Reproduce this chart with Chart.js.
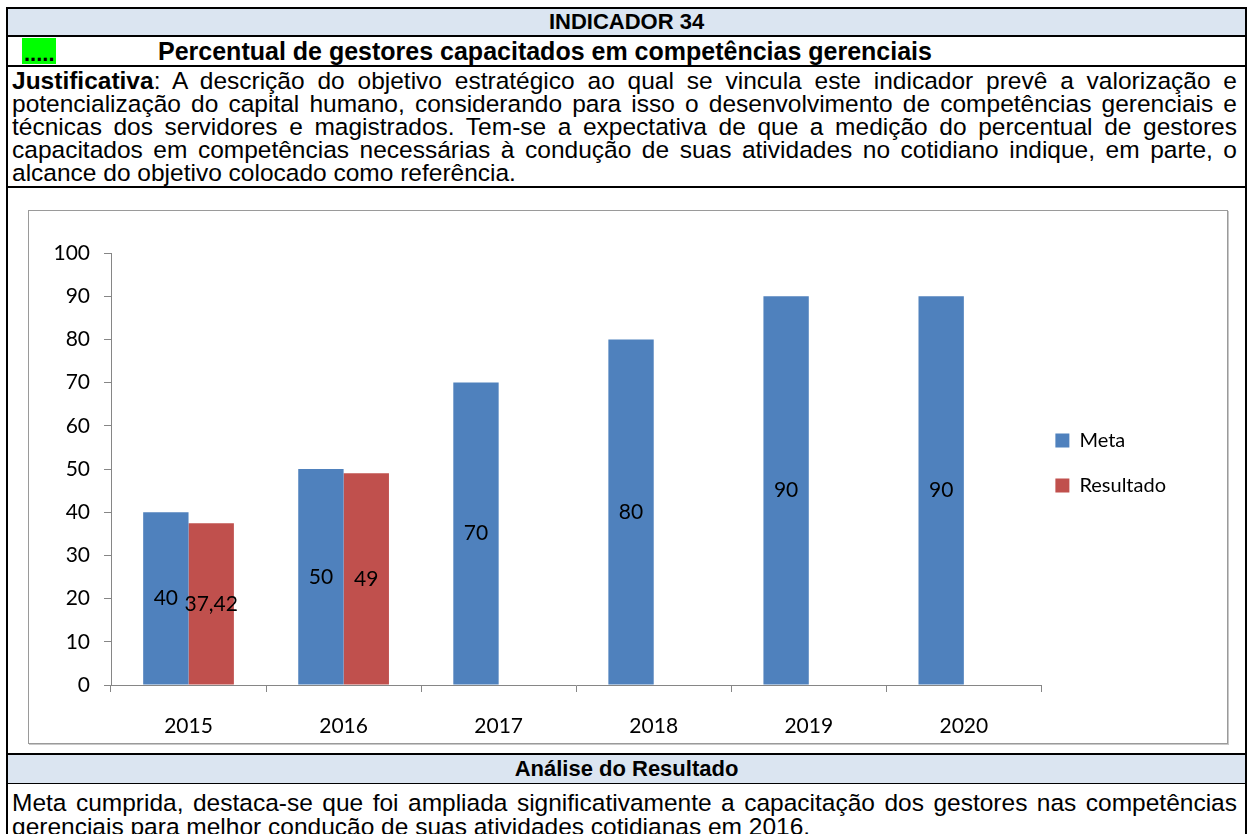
<!DOCTYPE html>
<html>
<head>
<meta charset="utf-8">
<script src="https://cdn.jsdelivr.net/npm/chart.js@4"></script>
<style>
  body { margin: 0; background: #fff; font-family: "Liberation Sans", Arial, sans-serif; color: #000; }
  #frame { position: absolute; left: 6px; top: 7px; width: 1237px; height: 840px; border: 2px solid #000; }
  .row { position: absolute; left: 0; width: 1237px; box-sizing: border-box; }
  .band { background: #dbe5f1; font-weight: bold; text-align: center; }
  #hdr { top: 0; height: 28px; line-height: 26px; font-size: 22px; border-bottom: 2px solid #000; }
  #ttl { top: 28px; height: 30px; border-bottom: 2px solid #000; font-weight: bold; }
  #ttl .grn { position: absolute; left: 14px; top: 1px; width: 34px; height: 26px; background: #00ff00;
              font-size: 22px; line-height: 32px; overflow: hidden; text-indent: 2px; }
  #ttl .t { position: absolute; left: 150px; top: 0; font-size: 25px; line-height: 28px; }
  .txt { font-size: 24.5px; text-align: justify; padding: 0 8px 0 4px; }
  #just { top: 58px; height: 121px; line-height: 23px; border-bottom: 2px solid #000; padding-top: 2px; }
  #chartrow { top: 179px; height: 567px; border-bottom: 2px solid #000; }
  #box { position: absolute; left: 20px; top: 22px; width: 1198px; height: 532px; border: 1px solid #9a9a9a;
         box-shadow: 1px 1px 0 #c8c8c8; }
  #box canvas { display: block; }
  #ana { top: 746px; height: 29px; line-height: 28px; font-size: 22px; border-bottom: 1px solid #000; }
  #res { top: 775px; line-height: 24px; padding-top: 7px; }
</style>
</head>
<body>
<div id="frame">
  <div class="row band" id="hdr">INDICADOR 34</div>
  <div class="row" id="ttl"><span class="grn">.....</span><span class="t">Percentual de gestores capacitados em competências gerenciais</span></div>
  <div class="row txt" id="just"><b>Justificativa</b>: A descrição do objetivo estratégico ao qual se vincula este indicador prevê a valorização e potencialização do capital humano, considerando para isso o desenvolvimento de competências gerenciais e técnicas dos servidores e magistrados. Tem-se a expectativa de que a medição do percentual de gestores capacitados em competências necessárias à condução de suas atividades no cotidiano indique, em parte, o alcance do objetivo colocado como referência.</div>
  <div class="row" id="chartrow">
    <div id="box"><canvas id="indicador" width="1198" height="532"></canvas></div>
  </div>
  <div class="row band" id="ana">Análise do Resultado</div>
  <div class="row txt" id="res">Meta cumprida, destaca-se que foi ampliada significativamente a capacitação dos gestores nas competências gerenciais para melhor condução de suas atividades cotidianas em 2016.</div>
</div>
<script>
const years = ["2015", "2016", "2017", "2018", "2019", "2020"];
const meta = [40, 50, 70, 80, 90, 90];
const resultado = [37.42, 49, null, null, null, null];

const axisGray = "#868686";
const chartFont = "Lato, 'Open Sans', sans-serif";

// values written in the middle of each bar, with a decimal comma
const barLabels = {
    id: "barLabels",
    afterDatasetsDraw(chart) {
        const ctx = chart.ctx;
        ctx.save();
        ctx.font = "21px " + chartFont;
        ctx.fillStyle = "#000";
        ctx.textAlign = "center";
        ctx.textBaseline = "middle";
        chart.data.datasets.forEach((ds, i) => {
            chart.getDatasetMeta(i).data.forEach((bar, j) => {
                const v = ds.data[j];
                if (v === null) return;
                ctx.fillText(String(v).replace(".", ","), bar.x, (bar.y + bar.base) / 2);
            });
        });
        ctx.restore();
    }
};

// pull the legend a little closer to the plot, like the original
const legendNudge = {
    id: "legendNudge",
    afterLayout(chart) {
        const lg = chart.legend;
        lg.left -= 11; lg.right -= 11;
        lg.top -= 6; lg.bottom -= 6;
    }
};

const ctx = document.getElementById("indicador").getContext("2d");

new Chart(ctx, {
    type: "bar",
    data: {
        labels: years,
        datasets: [
            { label: "Meta", data: meta, backgroundColor: "#4f81bd" },
            { label: "Resultado", data: resultado, backgroundColor: "#c0504d" }
        ]
    },
    options: {
        responsive: false,
        animation: false,
        categoryPercentage: 0.585,
        barPercentage: 1.0,
        layout: { padding: { top: 42, left: 0, right: 40, bottom: 0 } },
        plugins: {
            tooltip: { enabled: false },
            legend: {
                position: "right",
                fullSize: false,
                labels: {
                    boxWidth: 14,
                    boxHeight: 14,
                    padding: 25,
                    color: "#000",
                    font: { family: chartFont, size: 20 }
                }
            }
        },
        scales: {
            x: {
                afterFit: s => { s.height = 58; },
                grid: { drawOnChartArea: false, drawTicks: true, tickLength: 7, color: axisGray, offset: true },
                border: { color: axisGray },
                ticks: { color: "#000", padding: 22, font: { family: chartFont, size: 21 } }
            },
            y: {
                min: 0,
                max: 100,
                afterFit: s => { s.width = 82; },
                grid: { drawOnChartArea: false, drawTicks: true, tickLength: 7, color: axisGray },
                border: { color: axisGray },
                ticks: { stepSize: 10, color: "#000", padding: 14, font: { family: chartFont, size: 21 } }
            }
        }
    },
    plugins: [barLabels, legendNudge]
});
</script>
</body>
</html>
